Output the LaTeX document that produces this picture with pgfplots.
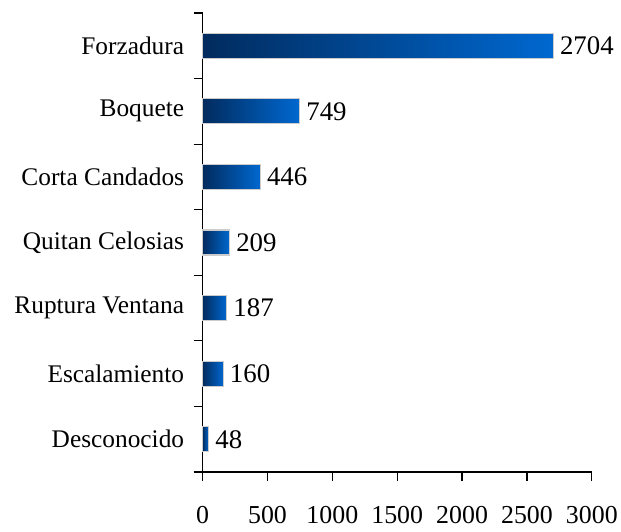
\documentclass[border=0pt]{standalone}
\usepackage{fontspec}
\setmainfont{Liberation Serif}
\usepackage{pgfplots}
\pgfplotsset{compat=1.18}
\definecolor{barL}{HTML}{012B5E}
\definecolor{barR}{HTML}{0068D0}
\pgfplotsset{onebar/.style={draw=gray!40, line width=1.2bp, left color=barL, right color=barR}}
\begin{document}
\begin{tikzpicture}
\begin{axis}[
  name=ax,
  scale only axis,
  width=390bp, height=460bp,
  xmin=0, xmax=3000,
  ymin=-0.5, ymax=6.5,
  axis x line*=bottom,
  axis y line*=left,
  axis line style={line width=1.2bp, black},
  xtick={0,500,...,3000},
  ytick={0,...,6},
  yticklabels={Desconocido,Escalamiento,Ruptura Ventana,Quitan Celosias,Corta Candados,Boquete,Forzadura},
  minor ytick={-0.5,0.5,...,6.5},
  tick align=outside,
  major tick length=9bp,
  minor tick length=9bp,
  major y tick style={draw=none},
  minor y tick style={line width=1.2bp, black},
  major x tick style={line width=1.2bp, black},
  /pgf/number format/assume math mode=true,
  /pgf/number format/1000 sep={},
  xticklabel style={font=\fontsize{26}{30}\selectfont, yshift=-22bp},
  yticklabel style={font=\fontsize{25.5}{30}\selectfont, xshift=-6bp},
  xbar,
  bar width=25bp,
  bar shift=0pt,
  point meta=x,
  nodes near coords,
  nodes near coords style={font=\fontsize{27}{31}\selectfont, anchor=west, inner sep=0pt, xshift=6bp, text=black},
  clip=false,
]
\addplot[onebar] coordinates {(48,0)};
\addplot[onebar] coordinates {(160,1)};
\addplot[onebar] coordinates {(187,2)};
\addplot[onebar] coordinates {(209,3)};
\addplot[onebar] coordinates {(446,4)};
\addplot[onebar] coordinates {(749,5)};
\addplot[onebar] coordinates {(2704,6)};
\end{axis}
\path ([xshift=-203bp,yshift=-60bp]ax.south west) rectangle ([xshift=418bp,yshift=473bp]ax.south west);
\end{tikzpicture}
\end{document}
